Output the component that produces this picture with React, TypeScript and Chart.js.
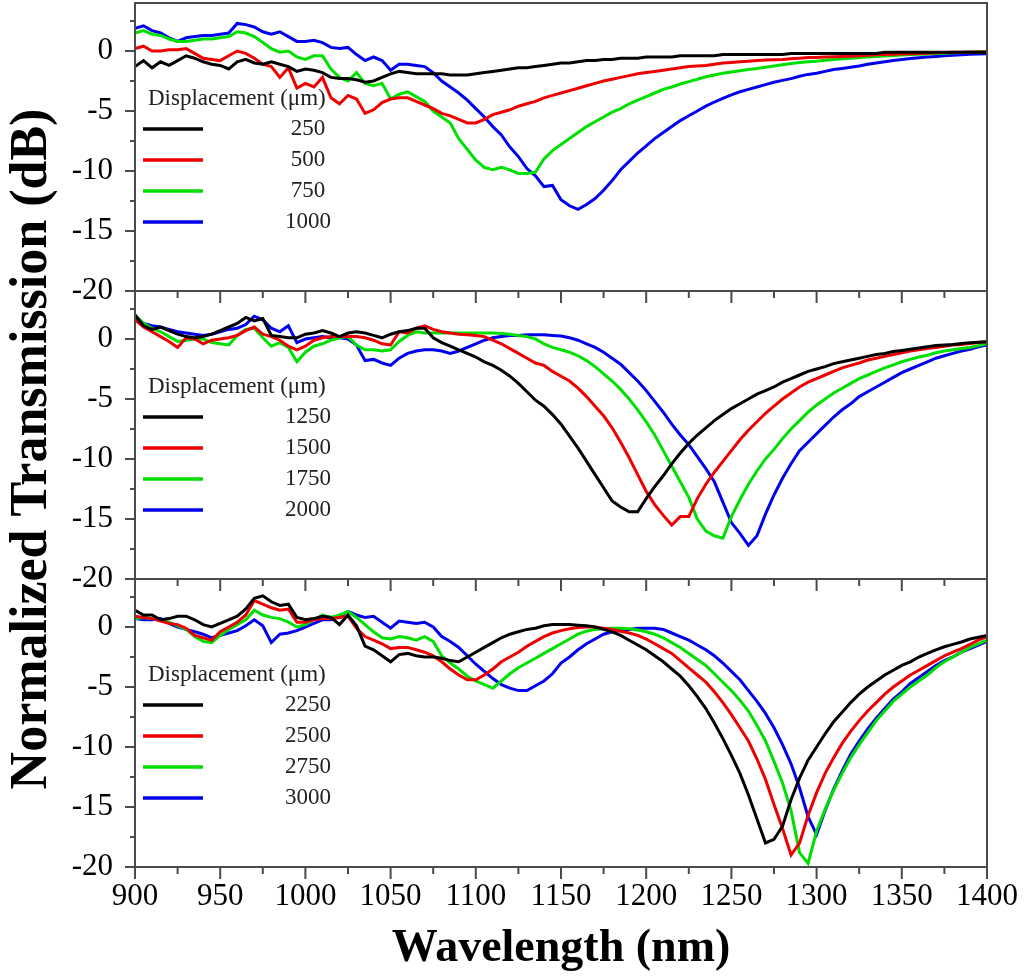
import { useEffect, useRef } from "react"
import { Chart, registerables } from "chart.js"

Chart.register(...registerables)

// wavelength grid (nm), one sample every 5 nm
const wavelength = [
  900, 905, 910, 915, 920, 925, 930, 935, 940, 945,
  950, 955, 960, 965, 970, 975, 980, 985, 990, 995,
  1000, 1005, 1010, 1015, 1020, 1025, 1030, 1035, 1040, 1045,
  1050, 1055, 1060, 1065, 1070, 1075, 1080, 1085, 1090, 1095,
  1100, 1105, 1110, 1115, 1120, 1125, 1130, 1135, 1140, 1145,
  1150, 1155, 1160, 1165, 1170, 1175, 1180, 1185, 1190, 1195,
  1200, 1205, 1210, 1215, 1220, 1225, 1230, 1235, 1240, 1245,
  1250, 1255, 1260, 1265, 1270, 1275, 1280, 1285, 1290, 1295,
  1300, 1305, 1310, 1315, 1320, 1325, 1330, 1335, 1340, 1345,
  1350, 1355, 1360, 1365, 1370, 1375, 1380, 1385, 1390, 1395,
  1400,
]

// top panel
const d250 = [
  -1.3, -0.8, -1.4, -0.9, -1.2, -0.8, -0.4, -0.6, -0.9, -1.1,
  -1.2, -1.5, -0.9, -0.7, -1.0, -1.1, -0.9, -1.1, -1.3, -1.7,
  -1.5, -1.6, -1.8, -2.2, -2.3, -2.3, -2.4, -2.6, -2.5, -2.2,
  -1.9, -1.7, -1.8, -1.9, -1.9, -1.9, -1.9, -2.0, -2.0, -2.0,
  -1.9, -1.8, -1.7, -1.6, -1.5, -1.4, -1.4, -1.3, -1.2, -1.1,
  -1.0, -1.0, -0.9, -0.8, -0.8, -0.7, -0.7, -0.6, -0.6, -0.6,
  -0.5, -0.5, -0.5, -0.5, -0.4, -0.4, -0.4, -0.4, -0.4, -0.3,
  -0.3, -0.3, -0.3, -0.3, -0.3, -0.3, -0.3, -0.2, -0.2, -0.2,
  -0.2, -0.2, -0.2, -0.2, -0.2, -0.2, -0.2, -0.2, -0.1, -0.1,
  -0.1, -0.1, -0.1, -0.1, -0.1, -0.1, -0.1, -0.1, -0.1, -0.1,
  -0.1,
]
const d500 = [
  0.2, 0.4, 0.0, 0.0, 0.1, 0.1, 0.2, -0.2, -0.6, -0.7,
  -0.8, -0.4, 0.0, -0.2, -0.6, -1.1, -1.3, -2.2, -1.4, -3.1,
  -2.7, -3.0, -2.2, -3.9, -4.4, -3.7, -4.0, -5.2, -4.9, -4.3,
  -4.0, -3.9, -3.9, -4.2, -4.5, -4.8, -5.2, -5.4, -5.7, -6.0,
  -6.0, -5.7, -5.3, -5.1, -4.9, -4.6, -4.4, -4.2, -3.9, -3.7,
  -3.5, -3.3, -3.1, -2.9, -2.7, -2.5, -2.35, -2.2, -2.05, -1.9,
  -1.8, -1.7, -1.6, -1.5, -1.4, -1.3, -1.25, -1.2, -1.1, -1.0,
  -0.95, -0.9, -0.85, -0.8, -0.75, -0.72, -0.7, -0.65, -0.6, -0.55,
  -0.55, -0.5, -0.48, -0.45, -0.43, -0.4, -0.35, -0.32, -0.3, -0.28,
  -0.25, -0.23, -0.2, -0.18, -0.15, -0.12, -0.1, -0.1, -0.08, -0.08,
  -0.08,
]
const d750 = [
  1.5, 1.7, 1.4, 1.3, 1.0, 0.8, 0.8, 0.9, 1.0, 1.0,
  1.1, 1.2, 1.6, 1.5, 1.2, 0.7, 0.2, -0.1, 0.0, -0.5,
  -0.7, -0.4, -0.4, -1.5, -2.2, -2.5, -1.8, -2.7, -2.9, -2.7,
  -4.0, -3.6, -3.4, -3.8, -4.2, -5.0, -5.5, -6.0, -7.3, -8.2,
  -9.1, -9.7, -9.9, -9.7, -9.9, -10.2, -10.2, -10.1, -9.0, -8.3,
  -7.8, -7.3, -6.8, -6.3, -5.9, -5.5, -5.1, -4.8, -4.4, -4.1,
  -3.8, -3.5, -3.2, -3.0, -2.75, -2.55, -2.35, -2.15, -2.0, -1.85,
  -1.75, -1.65, -1.55, -1.45, -1.35, -1.25, -1.15, -1.05, -0.95, -0.9,
  -0.85, -0.78, -0.7, -0.65, -0.6, -0.55, -0.5, -0.45, -0.42, -0.38,
  -0.34, -0.3, -0.27, -0.24, -0.2, -0.18, -0.15, -0.12, -0.1, -0.08,
  -0.06,
]
const d1000 = [
  1.9, 2.1, 1.7, 1.5, 1.1, 0.8, 1.1, 1.2, 1.3, 1.3,
  1.4, 1.5, 2.3, 2.2, 2.0, 1.6, 1.4, 1.6, 1.2, 0.8,
  0.8, 0.9, 0.7, 0.3, 0.2, 0.3, -0.3, -0.8, -0.5, -0.8,
  -1.6, -1.1, -1.1, -1.2, -1.3, -1.8, -2.5, -3.0, -3.5, -4.1,
  -4.8, -5.5, -6.3, -7.0, -8.0, -8.8, -9.8, -10.4, -11.3, -11.2,
  -12.4, -12.9, -13.2, -12.8, -12.3, -11.6, -10.8, -9.9, -9.2, -8.5,
  -7.9, -7.3, -6.8, -6.3, -5.8, -5.4, -5.0, -4.6, -4.25, -3.95,
  -3.65, -3.4, -3.2, -3.0, -2.8, -2.6, -2.45, -2.3, -2.1, -1.95,
  -1.85, -1.7, -1.55, -1.45, -1.35, -1.25, -1.1, -1.0, -0.9, -0.8,
  -0.7, -0.63, -0.56, -0.5, -0.45, -0.4, -0.36, -0.32, -0.28, -0.25,
  -0.22,
]

// middle panel
const d1250 = [
  2.0, 1.1, 0.8, 1.0, 0.7, 0.4, 0.2, 0.1, 0.2, 0.4,
  0.7, 1.0, 1.3, 1.8, 1.5, 1.7, 0.3, 0.2, 0.1, 0.1,
  0.4, 0.5, 0.7, 0.5, 0.2, 0.5, 0.6, 0.5, 0.3, 0.1,
  0.4, 0.6, 0.7, 0.9, 0.9, 0.1, -0.3, -0.6, -0.9, -1.2,
  -1.5, -1.9, -2.2, -2.6, -3.1, -3.7, -4.4, -5.1, -5.6, -6.3,
  -7.1, -8.1, -9.1, -10.2, -11.3, -12.4, -13.5, -14.0, -14.4, -14.4,
  -13.3, -12.3, -11.4, -10.4, -9.5, -8.7, -8.0, -7.4, -6.8, -6.3,
  -5.8, -5.4, -5.0, -4.6, -4.3, -4.0, -3.6, -3.3, -3.0, -2.7,
  -2.5, -2.3, -2.05, -1.9, -1.75, -1.6, -1.45, -1.3, -1.2, -1.05,
  -0.95, -0.85, -0.75, -0.65, -0.55, -0.5, -0.45, -0.38, -0.32, -0.27,
  -0.22,
]
const d1500 = [
  1.6, 1.0, 0.6, 0.2, -0.2, -0.7, 0.1, 0.0, -0.4, -0.1,
  0.0, 0.1, 0.3, 0.7, 1.0, 0.4, 0.2, -0.1, -0.6, -0.9,
  -0.6, -0.1, 0.1, 0.2, 0.2, 0.2, 0.2, 0.1, -0.1, -0.4,
  -0.5, 0.6, 0.5, 0.9, 1.1, 0.8, 0.6, 0.5, 0.4, 0.35,
  0.3, 0.2, -0.1, -0.4, -0.8, -1.2, -1.6, -2.0, -2.2, -2.7,
  -3.1, -3.5, -4.1, -4.8, -5.6, -6.4, -7.4, -8.6, -9.9, -11.3,
  -12.7, -13.8, -14.7, -15.5, -14.8, -14.8, -13.3, -12.1, -11.1, -10.2,
  -9.3, -8.4, -7.6, -6.9, -6.2, -5.6, -5.0, -4.5, -4.0, -3.6,
  -3.3, -3.0, -2.7, -2.4, -2.2, -2.0, -1.75, -1.6, -1.45, -1.3,
  -1.15, -1.0, -0.9, -0.8, -0.7, -0.6, -0.5, -0.45, -0.38, -0.3,
  -0.22,
]
const d1750 = [
  2.0, 1.3, 0.9, 0.6, 0.2, -0.2, -0.1, 0.0, 0.0, -0.3,
  -0.4, -0.5, 0.3, 0.8, 0.9, 0.1, -0.6, -0.3, -0.7, -1.9,
  -1.1, -0.6, -0.4, -0.1, 0.1, 0.2, -0.5, -0.9, -0.9, -1.0,
  -0.9, -0.2, 0.3, 0.6, 0.5, 0.5, 0.5, 0.5, 0.5, 0.5,
  0.5, 0.5, 0.5, 0.45, 0.4, 0.3, 0.2, 0.0, -0.4, -0.7,
  -0.9, -1.1, -1.4, -1.8, -2.3, -2.9, -3.5, -4.2, -5.0, -5.9,
  -6.9, -8.0, -9.3, -10.6, -11.9, -13.2, -15.0, -16.0, -16.4, -16.6,
  -14.8, -13.4, -12.1, -11.0, -10.0, -9.2, -8.3, -7.5, -6.8, -6.1,
  -5.5, -5.0, -4.5, -4.1, -3.7, -3.3, -3.0, -2.7, -2.4, -2.15,
  -1.9, -1.7, -1.5, -1.35, -1.15, -1.0, -0.9, -0.8, -0.7, -0.55,
  -0.4,
]
const d2000 = [
  1.6, 1.3, 1.1, 1.0, 0.8, 0.6, 0.5, 0.4, 0.3, 0.4,
  0.6, 0.8, 0.9, 1.2, 1.9, 1.6, 0.9, 0.6, 1.1, -0.3,
  0.0, 0.1, 0.2, 0.1, 0.1, 0.0, -0.5, -1.8, -1.7, -2.0,
  -2.2, -1.6, -1.2, -1.0, -0.9, -0.9, -1.0, -1.2, -1.0, -0.7,
  -0.4, -0.1, 0.1, 0.2, 0.3, 0.3, 0.35, 0.35, 0.35, 0.3,
  0.25, 0.1, -0.1, -0.4, -0.7, -1.1, -1.6, -2.1, -2.8, -3.5,
  -4.3, -5.2, -6.1, -7.1, -8.0, -8.8, -9.8, -10.8, -11.9, -13.6,
  -15.3, -16.2, -17.2, -16.4, -14.6, -13.0, -11.6, -10.4, -9.3, -8.6,
  -7.9, -7.2, -6.5, -5.9, -5.4, -4.8, -4.4, -4.0, -3.6, -3.2,
  -2.8, -2.5, -2.2, -1.9, -1.6, -1.4, -1.2, -1.0, -0.85, -0.65,
  -0.5,
]

// bottom panel
const d2250 = [
  1.4, 1.0, 1.0, 0.6, 0.7, 0.9, 0.9, 0.6, 0.2, 0.0,
  0.3, 0.6, 0.9, 1.5, 2.4, 2.6, 2.1, 1.8, 1.9, 0.8,
  0.6, 0.7, 0.9, 0.8, 0.2, 1.0, 0.1, -1.6, -1.9, -2.4,
  -2.9, -2.3, -2.2, -2.4, -2.5, -2.5, -2.6, -2.8, -2.9, -2.5,
  -2.1, -1.7, -1.3, -0.9, -0.6, -0.4, -0.2, -0.1, 0.1, 0.2,
  0.2, 0.2, 0.15, 0.1, 0.0, -0.2, -0.4, -0.7, -1.1, -1.5,
  -1.9, -2.4, -2.9, -3.5, -4.1, -4.9, -5.8, -6.8, -8.0, -9.3,
  -10.7, -12.2, -14.0, -16.0, -18.0, -17.7, -16.6, -14.4, -12.6, -11.1,
  -10.0, -8.9, -7.9, -7.1, -6.3, -5.6, -5.0, -4.5, -4.0, -3.6,
  -3.2, -2.9, -2.5, -2.2, -1.9, -1.65, -1.45, -1.25, -1.0, -0.85,
  -0.7,
]
const d2500 = [
  0.9, 0.8, 0.7, 0.5, 0.3, 0.2, -0.1, -0.7, -0.9, -1.1,
  -0.4, 0.0, 0.4, 1.0, 2.2, 1.9, 1.6, 1.4, 1.5, 0.4,
  0.4, 0.6, 0.7, 0.7, 0.8, 0.9, -0.1, -0.8, -1.1, -1.4,
  -1.8, -1.7, -1.7, -1.9, -2.1, -2.4, -2.9, -3.5, -4.0, -4.4,
  -4.4, -4.0, -3.5, -2.9, -2.5, -2.1, -1.6, -1.2, -0.8, -0.5,
  -0.3, -0.15, -0.05, 0.0, 0.0, -0.1, -0.2, -0.35, -0.5, -0.7,
  -1.0, -1.4, -1.8, -2.2, -2.8, -3.4, -4.0, -4.6, -5.4, -6.3,
  -7.3, -8.4, -9.5, -11.0, -12.7, -14.8, -16.8, -19.0, -18.0, -15.7,
  -13.8, -12.2, -10.9, -9.7, -8.7, -7.8, -7.0, -6.3, -5.6, -5.0,
  -4.5, -4.0, -3.6, -3.2, -2.8, -2.4, -2.1, -1.8, -1.45, -1.1,
  -0.8,
]
const d2750 = [
  0.7, 0.8, 0.7, 0.6, 0.4, 0.1, -0.2, -0.8, -1.2, -1.3,
  -0.7, -0.2, 0.2, 0.6, 1.4, 1.0, 0.8, 0.7, 0.4, 0.0,
  0.2, 0.6, 1.0, 0.8, 1.0, 1.3, 0.8, 0.2, -0.4, -0.9,
  -1.0, -0.8, -0.9, -1.1, -0.8, -1.2, -2.4, -3.0, -3.5, -4.1,
  -4.5, -4.8, -5.1, -4.5, -3.9, -3.4, -3.0, -2.6, -2.2, -1.8,
  -1.4, -1.0, -0.6, -0.35, -0.2, -0.12, -0.1, -0.1, -0.15, -0.25,
  -0.4, -0.6, -0.9, -1.3, -1.7, -2.2, -2.7, -3.2, -3.9, -4.6,
  -5.3, -6.1, -7.0, -8.2, -9.5, -11.2, -13.0, -15.3, -18.8, -19.7,
  -17.0, -15.2, -13.6, -12.2, -10.9, -9.8, -8.8, -7.8, -7.0, -6.2,
  -5.6, -5.0, -4.5, -4.0, -3.4, -2.9, -2.5, -2.1, -1.7, -1.4,
  -1.1,
]
const d3000 = [
  0.7, 0.6, 0.6, 0.7, 0.3, 0.0, -0.2, -0.4, -0.6, -0.9,
  -0.7, -0.5, -0.3, 0.1, 0.6, 0.1, -1.3, -0.6, -0.5, -0.3,
  0.0, 0.3, 0.6, 0.6, 0.9, 1.3, 1.0, 0.8, 0.9, 0.4,
  -0.1, 0.5, 0.4, 0.3, 0.4, 0.0, -0.8, -1.2, -1.7, -2.4,
  -3.1, -3.7, -4.3, -4.8, -5.1, -5.3, -5.3, -4.9, -4.5, -3.9,
  -3.0, -2.5, -1.9, -1.4, -1.0, -0.6, -0.4, -0.3, -0.2, -0.1,
  -0.1, -0.1, -0.2, -0.5, -0.8, -1.1, -1.5, -1.9, -2.4, -3.0,
  -3.7, -4.4, -5.3, -6.2, -7.2, -8.4, -9.8, -11.4, -13.4, -15.8,
  -17.3, -15.3, -13.5, -12.0, -10.6, -9.5, -8.5, -7.6, -6.8, -6.0,
  -5.4, -4.7, -4.2, -3.7, -3.2, -2.8, -2.5, -2.1, -1.8, -1.5,
  -1.2,
]

const topLabels = ["250", "500", "750", "1000"]
const midLabels = ["1250", "1500", "1750", "2000"]
const bottomLabels = ["2250", "2500", "2750", "3000"]

const xMajorTicks = [900, 950, 1000, 1050, 1100, 1150, 1200, 1250, 1300, 1350, 1400]
const xMinorTicks = [925, 975, 1025, 1075, 1125, 1175, 1225, 1275, 1325, 1375]
const yMajorTicks = [-20, -15, -10, -5, 0]
const yMinorTicks = [-17.5, -12.5, -7.5, -2.5, 2.5]

const seriesColors = ["#000000", "#ee0000", "#00e000", "#0000ee"]

const FONT = '"Liberation Serif", "Times New Roman", Times, serif'
const AXIS_COLOR = "#4a4a4a"
const CANVAS_W = 1024
const CANVAS_H = 980
const PLOT_LEFT = 135
const PLOT_RIGHT = 987

// box, outward ticks, in-plot legend and the shared y title
const panelFrame = {
  id: "panelFrame",
  afterDraw(chart: any, _args: any, opts: any) {
    const { ctx, chartArea: a } = chart
    const xs = chart.scales.x
    const ys = chart.scales.y
    ctx.save()

    ctx.strokeStyle = AXIS_COLOR
    ctx.lineWidth = 2
    ctx.strokeRect(a.left, a.top, a.right - a.left, a.bottom - a.top)

    ctx.beginPath()
    yMajorTicks.forEach((v) => {
      const py = ys.getPixelForValue(v)
      ctx.moveTo(a.left - 10, py)
      ctx.lineTo(a.left, py)
    })
    yMinorTicks.forEach((v) => {
      const py = ys.getPixelForValue(v)
      ctx.moveTo(a.left - 5, py)
      ctx.lineTo(a.left, py)
    })
    xMajorTicks.forEach((v) => {
      const px = xs.getPixelForValue(v)
      ctx.moveTo(px, a.bottom)
      ctx.lineTo(px, a.bottom + 12)
    })
    xMinorTicks.forEach((v) => {
      const px = xs.getPixelForValue(v)
      ctx.moveTo(px, a.bottom)
      ctx.lineTo(px, a.bottom + 7)
    })
    ctx.stroke()

    // legend
    ctx.font = `23px ${FONT}`
    ctx.fillStyle = "#222"
    ctx.textBaseline = "middle"
    ctx.textAlign = "left"
    ctx.fillText(opts.legendTitle, a.left + 13, a.top + 96)
    ctx.textAlign = "center"
    chart.data.datasets.forEach((ds: any, i: number) => {
      const y = a.top + 126 + i * 31
      ctx.strokeStyle = ds.borderColor
      ctx.lineWidth = 3.5
      ctx.beginPath()
      ctx.moveTo(a.left + 8, y)
      ctx.lineTo(a.left + 68, y)
      ctx.stroke()
      ctx.fillText(ds.label, a.left + 173, y)
    })

    if (opts.yTitle) {
      ctx.translate(33, 449)
      ctx.rotate(-Math.PI / 2)
      ctx.font = `bold 52px ${FONT}`
      ctx.fillStyle = "#000"
      ctx.textAlign = "center"
      ctx.textBaseline = "middle"
      ctx.fillText(opts.yTitle, 0, 0)
    }
    ctx.restore()
  },
}

type PanelProps = {
  top: number
  bottom: number
  labels: string[]
  series: number[][]
  showX: boolean
  yTitle?: string
}

function PanelChart({ top, bottom, labels, series, showX, yTitle }: PanelProps) {
  const chartRef = useRef<HTMLCanvasElement>(null)

  useEffect(() => {
    if (!chartRef.current) return
    const xHeight = showX ? CANVAS_H - bottom : 20

    const chart = new Chart(chartRef.current, {
      type: "line",
      data: {
        datasets: series.map((values, i) => ({
          label: labels[i],
          data: wavelength.map((x, j) => ({ x, y: values[j] })),
          borderColor: seriesColors[i],
          backgroundColor: seriesColors[i],
          borderWidth: 3,
          pointRadius: 0,
          fill: false,
          tension: 0,
        })),
      },
      options: {
        responsive: false,
        animation: false,
        events: [],
        layout: {
          padding: {
            top,
            left: 0,
            right: CANVAS_W - PLOT_RIGHT,
            bottom: CANVAS_H - bottom - xHeight,
          },
        },
        plugins: {
          legend: { display: false },
          tooltip: { enabled: false },
          panelFrame: { legendTitle: "Displacement (\u03bcm)", yTitle },
        },
        scales: {
          x: {
            type: "linear",
            min: 900,
            max: 1400,
            afterBuildTicks: (scale: any) => {
              scale.ticks = xMajorTicks.map((value) => ({ value }))
            },
            afterFit: (scale: any) => {
              scale.height = xHeight
              scale.paddingLeft = 0
              scale.paddingRight = 0
            },
            grid: { display: false, drawTicks: false },
            border: { display: false },
            ticks: {
              display: showX,
              autoSkip: false,
              maxRotation: 0,
              padding: 11,
              color: "#000",
              font: { family: FONT, size: 31 },
              callback: (v: any) => String(v),
            },
            title: {
              display: showX,
              text: "Wavelength (nm)",
              color: "#000",
              font: { family: FONT, size: 46, weight: "bold" },
              padding: { top: 0, bottom: 3 },
            },
          },
          y: {
            min: -20,
            max: 4,
            afterBuildTicks: (scale: any) => {
              scale.ticks = yMajorTicks.map((value) => ({ value }))
            },
            afterFit: (scale: any) => {
              scale.width = PLOT_LEFT
              scale.paddingTop = 0
              scale.paddingBottom = 0
            },
            grid: { display: false, drawTicks: false },
            border: { display: false },
            ticks: {
              padding: 22,
              color: "#000",
              font: { family: FONT, size: 31 },
              callback: (v: any) => String(v),
            },
          },
        },
      } as any,
      plugins: [panelFrame as any],
    })

    return () => {
      chart.destroy()
    }
  }, [])

  return (
    <canvas
      ref={chartRef}
      width={CANVAS_W}
      height={CANVAS_H}
      style={{ position: "absolute", left: 0, top: 0, width: CANVAS_W, height: CANVAS_H }}
    />
  )
}

export default function App() {
  return (
    <div
      style={{
        position: "absolute",
        left: 0,
        top: 0,
        width: CANVAS_W,
        height: CANVAS_H,
        background: "#ffffff",
        overflow: "hidden",
      }}
    >
      <PanelChart top={3} bottom={291} labels={topLabels} series={[d250, d500, d750, d1000]} showX={false} />
      <PanelChart
        top={291}
        bottom={579}
        labels={midLabels}
        series={[d1250, d1500, d1750, d2000]}
        showX={false}
        yTitle="Normalized Transmission (dB)"
      />
      <PanelChart top={579} bottom={867} labels={bottomLabels} series={[d2250, d2500, d2750, d3000]} showX={true} />
    </div>
  )
}
